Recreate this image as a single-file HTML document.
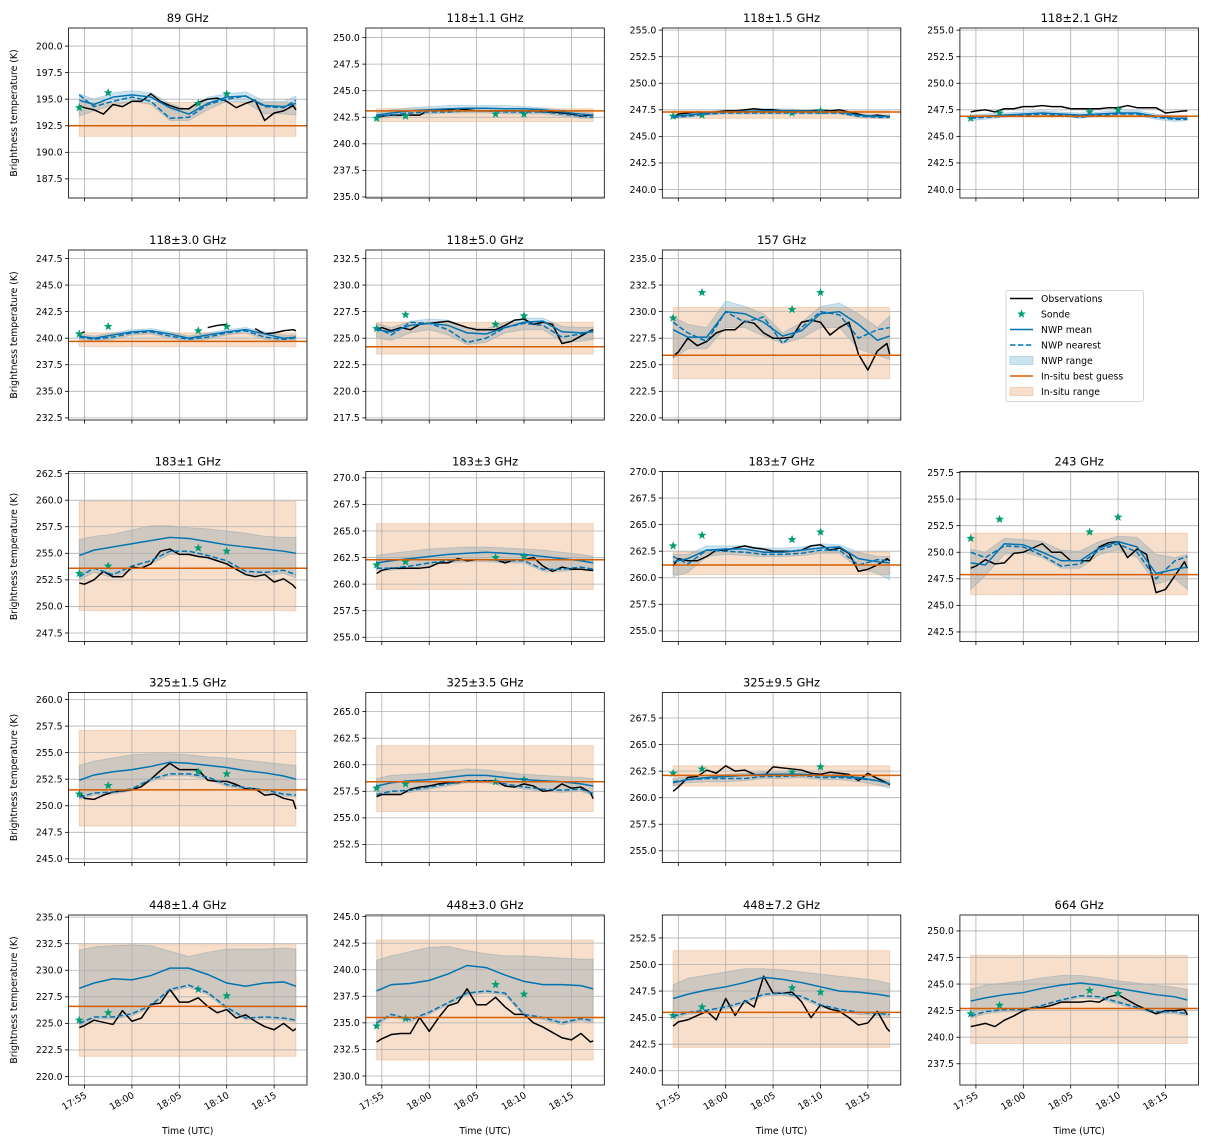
<!DOCTYPE html>
<html><head><meta charset="utf-8"><style>
html,body{margin:0;padding:0;background:#fff;}
svg{display:block;font-family:"DejaVu Sans","Liberation Sans",sans-serif;}
</style></head><body>
<svg id="fig" width="1209" height="1146" viewBox="0 0 1209 1146" xmlns="http://www.w3.org/2000/svg"></svg>
<script>
const TIME_OBS=[54.45,55,56,57,58,59,60,61,62,63,64,65,66,67,68,69,70,71,72,73,74,75,76,77,77.3];
const TIME_NWP=[54.45,56,58,60,62,64,66,68,70,72,74,76,77.3];
const SONDE_T=[54.45,57.5,67.0,70.0];
const XTICKS=[55,60,65,70,75];
const XTICK_LABELS=["17:55","18:00","18:05","18:10","18:15"];
const TITLES=["89 GHz","118±1.1 GHz","118±1.5 GHz","118±2.1 GHz","118±3.0 GHz","118±5.0 GHz","157 GHz","183±1 GHz","183±3 GHz","183±7 GHz","243 GHz","325±1.5 GHz","325±3.5 GHz","325±9.5 GHz","448±1.4 GHz","448±3.0 GHz","448±7.2 GHz","664 GHz"];
const YMIN=[185.7,234.9,239.2,239.2,232.3,217.3,219.8,246.7,254.6,254.0,241.6,244.66,250.8,253.9,219.2,229.15,238.66,235.5];
const BEST=[192.5,243.1,247.3,246.9,239.7,224.2,225.9,253.6,262.3,261.2,247.9,251.5,258.4,262.1,226.6,235.5,245.5,242.7];
const INSITU_LO=[191.5,242.1,246.7,246.8,239.2,223.5,223.7,249.6,259.5,260.3,246.0,248.1,255.6,261.1,221.9,231.5,242.2,239.4];
const INSITU_HI=[194.7,243.3,247.4,247.0,240.5,226.5,230.4,259.9,265.7,262.4,251.8,257.1,261.8,263.0,232.4,242.8,251.3,247.7];
const SONDE=[[194.2,195.6,194.6,195.5],[242.4,242.6,242.8,242.8],[246.9,247.0,247.2,247.4],[246.7,247.2,247.3,247.5],[240.4,241.1,240.7,241.1],[225.9,227.2,226.3,227.1],[229.4,231.8,230.2,231.8],[253.1,253.8,255.5,255.2],[261.8,262.1,262.5,262.6],[263.0,264.0,263.6,264.3],[251.3,253.1,251.9,253.3],[251.1,251.9,253.2,253.0],[257.8,258.2,258.4,258.6],[262.3,262.7,262.4,262.9],[225.3,226.0,228.2,227.6],[234.7,235.4,238.6,237.7],[245.2,246.0,247.8,247.4],[242.2,243.0,244.4,244.1]];
const OBS=[
[194.4,194.2,194.0,193.6,194.5,194.3,194.8,194.8,195.5,194.8,194.4,194.1,194.1,194.7,195.0,195.1,194.8,194.2,194.6,194.9,193.0,193.7,193.9,194.4,194.0],
[242.4,242.6,242.7,242.7,242.7,242.7,243.2,243.2,243.2,243.3,243.2,243.1,243.1,243.1,243.1,243.1,243.1,243.1,243.0,243.0,242.9,242.8,242.6,242.7,242.7],
[246.8,247.1,247.2,247.3,247.2,247.3,247.4,247.4,247.5,247.6,247.5,247.5,247.4,247.4,247.4,247.4,247.5,247.4,247.5,247.3,247.1,246.9,247.0,246.9,246.9],
[247.3,247.4,247.5,247.3,247.6,247.6,247.8,247.8,247.9,247.8,247.8,247.6,247.6,247.6,247.6,247.7,247.7,247.9,247.7,247.7,247.7,247.2,247.3,247.4,247.4],
[240.4,240.6,null,null,null,null,null,null,null,null,null,null,null,null,241.0,241.2,241.3,null,null,240.9,240.4,240.5,240.7,240.8,240.7],
[225.8,226.0,225.7,226.0,225.8,226.3,226.4,226.5,226.6,226.3,226.0,225.8,225.8,225.8,226.2,226.7,226.8,226.3,226.5,226.3,224.5,224.7,225.2,225.7,225.8],
[225.8,226.2,227.5,226.8,227.2,228.0,228.3,228.3,229.1,228.9,228.0,227.5,227.5,227.6,229.0,229.2,229.0,227.8,228.5,229.0,226.0,224.5,226.3,227.0,226.0],
[252.2,252.1,252.5,253.3,252.8,252.8,253.7,253.6,254.0,255.2,255.4,254.9,254.9,254.7,254.6,254.3,254.0,253.5,253.0,252.8,253.0,252.3,252.6,252.0,251.7],
[261.0,261.3,261.5,261.5,261.5,261.5,261.6,262.0,262.0,262.4,262.2,262.3,262.3,262.3,262.0,262.3,262.3,262.5,261.7,261.2,261.6,261.4,261.4,261.3,261.3],
[261.1,261.8,261.6,261.6,262.0,262.6,262.6,262.8,263.0,262.8,262.7,262.5,262.5,262.5,262.6,263.0,263.1,262.6,262.8,262.3,260.6,260.8,261.2,261.8,261.6],
[248.5,248.7,249.3,248.9,249.0,249.9,250.0,250.4,250.8,250.0,250.0,249.2,249.2,249.2,250.5,250.9,251.0,249.5,250.3,249.8,246.2,246.5,247.8,249.1,248.5],
[251.3,250.7,250.6,251.0,251.3,251.4,251.5,251.8,252.5,253.3,254.0,253.4,253.4,253.4,252.4,252.3,252.3,252.0,251.6,251.6,251.0,251.1,250.7,250.5,249.7],
[257.0,257.2,257.2,257.2,257.7,257.9,258.0,258.2,258.3,258.3,258.5,258.5,258.5,258.5,258.0,257.9,258.2,258.0,257.5,257.6,258.2,257.8,257.9,257.4,256.8],
[260.6,261.0,261.9,262.0,262.6,262.3,263.0,262.5,262.6,262.2,262.0,262.9,262.8,262.7,262.6,262.3,262.2,262.4,262.3,262.2,261.6,262.3,261.8,261.4,261.2],
[224.6,224.8,225.3,225.1,224.9,226.2,225.2,225.5,226.8,226.9,228.2,227.0,227.0,227.4,226.6,226.0,226.3,225.5,225.8,225.2,224.7,224.4,225.0,224.3,224.5],
[233.2,233.5,233.9,234.0,234.0,235.5,234.2,235.5,236.6,236.9,238.2,236.7,236.7,237.4,236.5,235.8,235.8,235.0,234.6,234.1,233.6,233.4,234.0,233.2,233.3],
[244.2,244.6,244.8,245.2,245.6,244.8,246.8,245.2,246.6,246.0,248.9,247.3,247.3,247.4,246.5,245.0,246.2,245.8,245.6,245.0,244.3,244.5,245.6,244.0,243.7],
[241.0,241.1,241.3,241.0,241.6,242.0,242.5,242.8,242.8,243.0,243.3,243.3,243.3,243.4,243.3,243.8,244.0,243.5,243.0,242.6,242.2,242.5,242.5,242.6,242.1]];
const NWP_MEAN=[
[194.9,194.5,195.2,195.4,195.2,194.2,193.6,194.6,195.2,195.3,194.4,194.3,194.6],
[242.7,242.9,243.1,243.2,243.3,243.35,243.35,243.3,243.3,243.2,243.0,242.8,242.7],
[246.9,247.0,247.2,247.3,247.35,247.4,247.4,247.4,247.35,247.3,247.0,246.9,246.9],
[246.8,246.9,247.0,247.1,247.2,247.1,247.0,247.1,247.2,247.2,246.9,246.7,246.7],
[240.2,240.0,240.3,240.6,240.7,240.4,240.0,240.3,240.6,240.8,240.4,240.0,240.1],
[225.8,225.6,226.2,226.4,226.2,225.5,225.4,226.0,226.5,226.6,225.6,225.5,225.6],
[228.3,227.6,227.6,230.0,229.8,229.0,227.7,228.2,229.8,230.0,228.8,227.3,227.7],
[254.8,255.3,255.6,255.9,256.2,256.5,256.4,256.1,255.8,255.6,255.4,255.2,255.0],
[262.0,262.2,262.4,262.6,262.8,262.9,263.0,262.9,262.8,262.6,262.4,262.2,262.0],
[261.5,261.8,262.6,262.7,262.7,262.4,262.4,262.6,262.8,262.9,261.8,261.5,261.4],
[249.0,248.8,250.8,250.7,250.0,249.2,249.2,250.4,251.0,250.5,248.0,248.4,248.6],
[252.4,252.9,253.2,253.4,253.7,254.1,254.0,253.8,253.6,253.3,253.1,252.8,252.5],
[258.0,258.3,258.5,258.6,258.8,259.0,259.0,258.8,258.6,258.5,258.4,258.2,258.0],
[261.4,261.7,261.9,262.0,262.1,262.2,262.2,262.2,262.1,262.0,261.9,261.6,261.3],
[228.3,228.8,229.2,229.1,229.5,230.2,230.2,229.6,228.8,228.5,228.8,228.9,228.5],
[238.0,238.6,238.7,239.0,239.6,240.4,240.2,239.5,238.9,238.6,238.6,238.5,238.2],
[246.8,247.2,247.6,247.9,248.3,248.8,248.6,248.3,247.9,247.5,247.4,247.2,247.0],
[243.4,243.7,244.0,244.2,244.6,244.9,245.1,244.9,244.6,244.3,244.0,243.8,243.5]];
const NWP_NEAR=[
[195.4,194.3,194.8,195.2,194.8,193.2,193.3,194.5,195.0,195.3,194.3,194.2,194.9],
[242.6,242.7,242.9,243.0,243.0,243.1,243.1,243.0,243.0,243.0,242.8,242.6,242.5],
[246.8,246.9,247.1,247.2,247.2,247.2,247.2,247.2,247.2,247.2,246.9,246.8,246.8],
[246.7,246.8,246.9,247.0,247.1,247.0,246.8,247.0,247.1,247.1,246.8,246.6,246.6],
[240.1,239.9,240.1,240.5,240.6,240.2,239.9,240.1,240.5,240.7,240.1,239.9,240.0],
[226.0,225.3,226.5,226.4,225.8,224.6,225.0,226.0,226.4,226.2,225.1,225.4,225.7],
[229.0,228.0,227.2,230.0,229.0,229.5,227.0,228.5,230.0,229.7,227.5,228.3,228.5],
[252.8,253.6,253.0,253.8,254.3,255.2,255.2,254.8,254.3,253.3,253.2,253.4,253.0],
[261.5,261.5,261.7,262.0,262.2,262.3,262.3,262.2,262.2,261.4,261.4,261.6,261.4],
[262.0,261.3,262.6,262.5,262.4,262.2,262.2,262.3,262.6,262.6,261.2,261.7,261.6],
[250.0,249.5,250.6,250.5,249.7,248.7,248.9,250.2,250.8,250.0,247.5,249.2,249.6],
[250.8,251.2,251.3,251.6,252.5,253.0,253.0,252.7,252.0,251.7,251.5,251.1,251.0],
[257.2,257.5,257.6,257.9,258.2,258.5,258.5,258.2,257.9,257.7,257.6,257.7,257.3],
[261.5,261.7,261.8,261.8,261.8,262.0,262.0,262.1,261.9,261.9,261.8,261.6,261.3],
[225.0,225.6,225.6,225.9,226.7,228.2,228.6,227.9,226.5,225.5,225.6,225.5,225.3],
[235.0,235.8,235.3,236.0,236.9,237.8,238.0,237.8,235.8,235.5,235.0,235.4,235.2],
[245.1,245.5,245.7,246.0,246.5,247.2,247.3,247.0,246.2,245.8,245.5,245.4,245.3],
[242.0,242.4,242.6,242.6,243.0,243.5,243.9,243.8,243.3,242.8,242.4,242.4,242.2]];
const NWP_LO=[
[193.4,193.9,194.4,194.8,194.5,193.0,193.0,194.0,194.8,194.7,193.6,193.6,193.5],
[242.4,242.5,242.7,242.8,242.9,242.9,242.9,242.8,242.8,242.8,242.6,242.4,242.4],
[246.7,246.8,247.0,247.1,247.1,247.1,247.1,247.1,247.1,247.1,246.8,246.7,246.7],
[246.5,246.6,246.8,246.9,247.0,246.9,246.7,246.9,247.0,247.0,246.6,246.4,246.5],
[239.9,239.7,239.9,240.3,240.4,240.0,239.7,239.9,240.3,240.5,239.9,239.7,239.8],
[225.0,224.8,225.5,225.8,225.3,224.4,224.6,225.5,225.8,225.8,224.7,224.7,224.9],
[225.6,226.5,226.5,228.5,228.5,227.7,227.0,227.5,228.5,228.5,226.5,225.9,225.5],
[252.5,253.2,252.7,253.5,254.0,254.9,254.9,254.5,254.0,253.0,252.9,253.1,252.7],
[261.3,261.3,261.5,261.8,262.0,262.1,262.1,262.0,262.0,261.2,261.2,261.4,261.2],
[260.1,260.5,262.0,262.2,262.1,262.0,262.0,262.1,262.3,262.3,260.9,260.4,259.8],
[246.5,247.8,249.8,250.0,249.5,248.5,248.5,249.8,250.2,249.5,247.0,247.5,246.5],
[250.6,251.0,251.1,251.4,252.3,252.8,252.8,252.5,251.8,251.5,251.3,250.9,250.8],
[257.0,257.3,257.4,257.7,258.0,258.3,258.3,258.0,257.7,257.5,257.4,257.5,257.1],
[261.1,261.4,261.5,261.5,261.6,261.8,261.8,261.9,261.7,261.7,261.5,261.2,260.9],
[224.8,225.4,225.4,225.7,226.5,228.0,228.4,227.7,226.3,225.3,225.4,225.3,225.1],
[234.8,235.6,235.1,235.8,236.7,237.6,237.8,237.6,235.6,235.3,234.8,235.2,235.0],
[244.9,245.3,245.5,245.8,246.3,247.0,247.1,246.8,246.0,245.6,245.3,245.2,245.1],
[241.8,242.2,242.4,242.4,242.8,243.3,243.7,243.6,243.1,242.6,242.2,242.2,242.0]];
const NWP_HI=[
[195.5,195.0,195.6,195.8,195.6,194.6,194.0,195.2,195.5,195.7,194.8,194.8,195.3],
[242.9,243.2,243.4,243.5,243.6,243.6,243.6,243.6,243.5,243.4,243.2,243.0,242.9],
[247.0,247.1,247.3,247.5,247.5,247.6,247.6,247.5,247.5,247.4,247.1,247.0,247.0],
[247.0,247.1,247.2,247.3,247.4,247.3,247.2,247.3,247.4,247.4,247.1,246.9,246.9],
[240.4,240.2,240.5,240.8,240.9,240.6,240.2,240.5,240.8,241.0,240.6,240.3,240.3],
[226.4,226.0,226.6,226.8,226.7,226.0,225.9,226.5,226.9,226.9,226.1,226.0,226.0],
[229.5,228.8,228.5,231.0,230.5,229.8,228.0,229.0,230.5,230.8,229.8,228.5,229.6],
[256.3,256.6,256.8,257.2,257.6,257.6,257.4,257.3,257.1,256.9,256.6,256.5,256.5],
[262.7,262.9,263.1,263.3,263.4,263.5,263.5,263.4,263.3,263.2,263.0,262.8,262.6],
[262.2,262.2,263.0,263.0,263.0,262.8,262.8,262.9,263.2,263.1,262.4,262.0,262.0],
[250.3,250.0,251.3,251.2,251.0,250.2,250.1,251.0,251.5,251.4,249.8,249.5,249.8],
[253.8,254.2,254.5,254.8,254.9,254.9,254.8,254.6,254.5,254.3,254.1,253.9,253.8],
[258.7,259.0,259.1,259.2,259.4,259.6,259.5,259.3,259.1,259.0,258.9,258.8,258.7],
[261.8,262.0,262.1,262.2,262.3,262.4,262.4,262.4,262.3,262.2,262.1,261.9,261.6],
[231.9,232.2,232.3,232.4,232.3,231.8,231.3,231.7,232.0,232.0,232.0,232.1,232.0],
[240.9,241.3,241.7,242.1,242.2,241.8,241.5,241.3,241.3,241.2,241.1,241.0,241.0],
[248.1,248.7,249.0,249.3,249.6,249.6,249.5,249.3,249.1,248.9,248.7,248.5,248.2],
[244.5,244.9,245.1,245.3,245.6,245.8,245.8,245.6,245.3,245.1,244.9,244.7,244.5]];
// slot positions (row, col) for each panel
const SLOTS=[[0,0],[0,1],[0,2],[0,3],[1,0],[1,1],[1,2],[2,0],[2,1],[2,2],[2,3],[3,0],[3,1],[3,2],[4,0],[4,1],[4,2],[4,3]];

const NS="http://www.w3.org/2000/svg";
const svg=document.getElementById('fig');
const COL_L=[68.5,365.8,662.3,959.9], AX_W=238.5;
const ROW_T=[28,250,471.5,692.5,915], AX_H=170, YSPAN=16;
const XMIN=53.31, XMAX=78.47;
const C_OBS="#000", C_SON="#029e73", C_NWP="#0173b2", C_IN="#d55e00";
function mk(tag,attrs,parent){const e=document.createElementNS(NS,tag);for(const k in attrs)e.setAttribute(k,attrs[k]);(parent||svg).appendChild(e);return e;}
function starPath(cx,cy,r){let d="";for(let i=0;i<10;i++){const a=-Math.PI/2+i*Math.PI/5;const rr=i%2?r*0.42:r;d+=(i?"L":"M")+(cx+rr*Math.cos(a)).toFixed(2)+","+(cy+rr*Math.sin(a)).toFixed(2);}return d+"Z";}

TITLES.forEach((title,p)=>{
  const [row,col]=SLOTS[p];
  const L=COL_L[col],T=ROW_T[row],ymin=YMIN[p],ymax=ymin+YSPAN;
  const X=t=>L+(t-XMIN)/(XMAX-XMIN)*AX_W;
  const Y=v=>T+(ymax-v)/YSPAN*AX_H;
  const g=mk('g',{});
  
  
  const cid='clip'+p;
  const cp=mk('clipPath',{id:cid},g);mk('rect',{x:L,y:T,width:AX_W,height:AX_H},cp);
  const pg=mk('g',{'clip-path':'url(#'+cid+')'},g);
  // NWP range
  let d="";TIME_NWP.forEach((t,i)=>{d+=(i?"L":"M")+X(t).toFixed(2)+","+Y(NWP_HI[p][i]).toFixed(2);});
  for(let i=TIME_NWP.length-1;i>=0;i--)d+="L"+X(TIME_NWP[i]).toFixed(2)+","+Y(NWP_LO[p][i]).toFixed(2);
  const band=mk('path',{d:d+"Z",fill:C_NWP,'fill-opacity':0.2,stroke:C_NWP,'stroke-opacity':0.2,'stroke-width':1},pg);
  
  
  // in-situ range
  const t0=TIME_OBS[0],t1=TIME_OBS[TIME_OBS.length-1];
  const ir=mk('rect',{x:X(t0),y:Y(INSITU_HI[p]),width:X(t1)-X(t0),height:Y(INSITU_LO[p])-Y(INSITU_HI[p]),fill:C_IN,'fill-opacity':0.2,stroke:C_IN,'stroke-opacity':0.2,'stroke-width':1},pg);
  
  
  // grid
  XTICKS.forEach(t=>{mk('line',{x1:X(t),x2:X(t),y1:T,y2:T+AX_H,stroke:'#b0b0b0','stroke-width':0.8},pg);});
  const yticks=[];for(let v=Math.ceil(ymin/2.5)*2.5;v<=ymax+1e-9;v+=2.5)yticks.push(v);
  yticks.forEach(v=>{mk('line',{x1:L,x2:L+AX_W,y1:Y(v),y2:Y(v),stroke:'#b0b0b0','stroke-width':0.8},pg);});
  // observations (with gaps)
  let od="",pen=false;TIME_OBS.forEach((t,i)=>{const v=OBS[p][i];if(v===null){pen=false;return;}od+=(pen?"L":"M")+X(t).toFixed(2)+","+Y(v).toFixed(2);pen=true;});
  const ol=mk('path',{d:od,fill:'none',stroke:C_OBS,'stroke-width':1.5,'stroke-linejoin':'round'},pg);
  
  
  // sonde
  SONDE_T.forEach((t,i)=>{const s=mk('path',{d:starPath(X(t),Y(SONDE[p][i]),4.6),fill:C_SON},pg);
    
    });
  // NWP mean / nearest
  const lp=arr=>TIME_NWP.map((t,i)=>(i?"L":"M")+X(t).toFixed(2)+","+Y(arr[i]).toFixed(2)).join("");
  const ml=mk('path',{d:lp(NWP_MEAN[p]),fill:'none',stroke:C_NWP,'stroke-width':1.5},pg);
  
  
  const nl=mk('path',{d:lp(NWP_NEAR[p]),fill:'none',stroke:C_NWP,'stroke-width':1.5,'stroke-dasharray':'5.5,2.4'},pg);
  
  
  // best guess
  const bl=mk('line',{x1:L,x2:L+AX_W,y1:Y(BEST[p]),y2:Y(BEST[p]),stroke:C_IN,'stroke-width':1.5},pg);
  
  
  // frame
  mk('rect',{x:L,y:T,width:AX_W,height:AX_H,fill:'none',stroke:'#000','stroke-width':0.8},g);
  // y ticks
  yticks.forEach(v=>{mk('line',{x1:L-3.5,x2:L,y1:Y(v),y2:Y(v),stroke:'#000','stroke-width':0.8},g);
    const tl=mk('text',{x:L-6,y:Y(v)+3.3,'text-anchor':'end','font-size':9.3,fill:'#000'},g);tl.textContent=v.toFixed(1);
    
    });
  // x ticks
  XTICKS.forEach((t,i)=>{mk('line',{x1:X(t),x2:X(t),y1:T+AX_H,y2:T+AX_H+3.5,stroke:'#000','stroke-width':0.8},g);
    if(row===4){const tx=X(t)+3,ty=T+AX_H+12;
      const xl=mk('text',{x:tx,y:ty,'text-anchor':'end','font-size':9.3,transform:'rotate(-30 '+tx+' '+ty+')'},g);xl.textContent=XTICK_LABELS[i];
      
      }});
  const tt=mk('text',{x:L+AX_W/2,y:T-6,'text-anchor':'middle','font-size':11.5},g);tt.textContent=title;
  
  
  if(col===0){const yx=17,yy=T+AX_H/2;const yl=mk('text',{x:yx,y:yy,'text-anchor':'middle','font-size':9.3,transform:'rotate(-90 '+yx+' '+yy+')'},g);yl.textContent='Brightness temperature (K)';
    
    }
  if(row===4){const xa=mk('text',{x:L+AX_W/2,y:1134,'text-anchor':'middle','font-size':9.3},g);xa.textContent='Time (UTC)';
    
    }
});

// legend
const LEG=['Observations','Sonde','NWP mean','NWP nearest','NWP range','In-situ best guess','In-situ range'];
const lg=mk('g',{});


mk('rect',{x:1006,y:290.5,width:137.5,height:111,rx:2,fill:'#fff',stroke:'#ccc','stroke-width':0.8},lg);
LEG.forEach((lab,i)=>{
  const y=298.5+i*15.5,x0=1010,x1=1033;
  const e=mk('g',{},lg);
  
  
  if(i===0)mk('line',{x1:x0,x2:x1,y1:y,y2:y,stroke:C_OBS,'stroke-width':1.5},e);
  if(i===1)mk('path',{d:starPath((x0+x1)/2,y,4.6),fill:C_SON},e);
  if(i===2)mk('line',{x1:x0,x2:x1,y1:y,y2:y,stroke:C_NWP,'stroke-width':1.5},e);
  if(i===3)mk('line',{x1:x0,x2:x1,y1:y,y2:y,stroke:C_NWP,'stroke-width':1.5,'stroke-dasharray':'5.5,2.4'},e);
  if(i===4)mk('rect',{x:x0,y:y-4,width:x1-x0,height:8,fill:C_NWP,'fill-opacity':0.2,stroke:C_NWP,'stroke-opacity':0.2},e);
  if(i===5)mk('line',{x1:x0,x2:x1,y1:y,y2:y,stroke:C_IN,'stroke-width':1.5},e);
  if(i===6)mk('rect',{x:x0,y:y-4,width:x1-x0,height:8,fill:C_IN,'fill-opacity':0.2,stroke:C_IN,'stroke-opacity':0.2},e);
  const t=mk('text',{x:1041,y:y+3.3,'font-size':9.3},e);t.textContent=lab;
});
</script>
</body></html>
